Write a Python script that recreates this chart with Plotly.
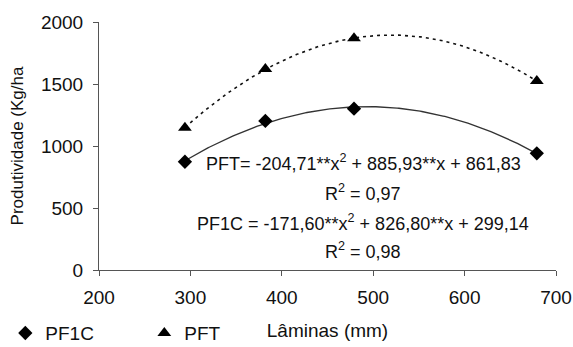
import numpy as np
import plotly.graph_objects as go

laminas = [294, 382, 479, 679]
pf1c = [873, 1202, 1301, 941]
pft = [1148, 1621, 1868, 1524]

eq_pft = "PFT= -204,71**x<sup>2</sup> + 885,93**x + 861,83"
r2_pft = "R<sup>2</sup> = 0,97"
eq_pf1c = "PF1C = -171,60**x<sup>2</sup> + 826,80**x + 299,14"
r2_pf1c = "R<sup>2</sup> = 0,98"

FONT = "Liberation Sans, Arial, sans-serif"

xs = np.array(laminas, dtype=float)
xfit = np.linspace(xs.min(), xs.max(), 200)
fit1 = np.polyval(np.polyfit(xs, pf1c, 2), xfit)
fit2 = np.polyval(np.polyfit(xs, pft, 2), xfit)

fig = go.Figure()
fig.add_trace(go.Scatter(x=xfit, y=fit1, mode="lines", line=dict(color="#333333", width=1.3),
                         showlegend=False, hoverinfo="skip"))
fig.add_trace(go.Scatter(x=xfit, y=fit2, mode="lines", line=dict(color="#111111", width=1.6, dash="3px,4px"),
                         showlegend=False, hoverinfo="skip"))
fig.add_trace(go.Scatter(x=laminas, y=pf1c, mode="markers", name="PF1C",
                         marker=dict(symbol="diamond", size=11, color="black")))
fig.add_trace(go.Scatter(x=laminas, y=pft, mode="markers", name="PFT",
                         marker=dict(symbol="triangle-up", size=12, color="black")))

ann = [
    (489, 863, eq_pft),
    (489, 625, r2_pft),
    (489, 380, eq_pf1c),
    (489, 160, r2_pf1c),
]
for x, y, t in ann:
    fig.add_annotation(x=x, y=y, text=t, showarrow=False, xref="x", yref="y",
                       font=dict(family=FONT, size=18, color="#111111"))

fig.update_layout(
    width=573, height=347,
    margin=dict(l=99, r=17, t=22, b=77, autoexpand=False),
    paper_bgcolor="white", plot_bgcolor="white",
    font=dict(family=FONT, size=19, color="#111111"),
    legend=dict(orientation="h", x=-0.205, xanchor="left", y=-0.178, yanchor="top",
                font=dict(size=19), entrywidth=94, entrywidthmode="pixels",
                itemwidth=30, tracegroupgap=0),
    xaxis=dict(range=[200, 700], tickvals=[200, 300, 400, 500, 600, 700],
               showgrid=False, zeroline=False, showline=True, linecolor="#555555", linewidth=1,
               ticks="outside", ticklen=5, tickcolor="#555555", ticklabelstandoff=5,
               automargin=False,
               title=dict(text="Lâminas (mm)", standoff=16, font=dict(size=19))),
    yaxis=dict(range=[0, 2000], tickvals=[0, 500, 1000, 1500, 2000],
               showgrid=False, zeroline=False, showline=True, linecolor="#555555", linewidth=1,
               ticks="outside", ticklen=5, tickcolor="#555555", ticklabelstandoff=6,
               automargin=False,
               title=dict(text="Produtividade (Kg/ha", standoff=12, font=dict(size=17))),
)

fig.write_html("out.html", config={"displayModeBar": False},
               post_script="document.body.style.margin='0';document.body.style.overflow='hidden';")
